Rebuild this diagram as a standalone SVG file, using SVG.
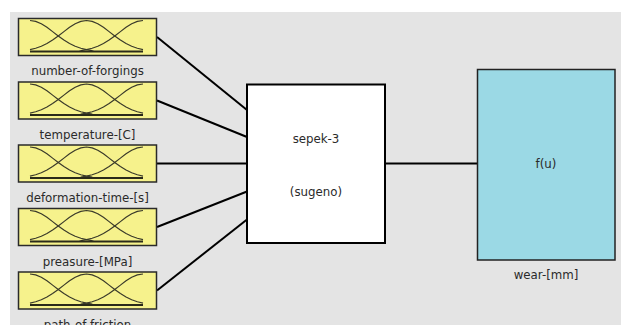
<svg xmlns="http://www.w3.org/2000/svg" xmlns:xlink="http://www.w3.org/1999/xlink" width="621" height="325" viewBox="0 0 621 325">
<style>
.bg{fill:#e4e4e4}
.inbox{fill:#f6f28c;stroke:#2a2a2a;stroke-width:1.5}
.mf{fill:none;stroke:#3a3a2a;stroke-width:1.2;stroke-linejoin:round}
.base{stroke:#2a2a1a;stroke-width:2}
.lbl{font-family:"DejaVu Sans",sans-serif;font-size:11.8px;fill:#2a2a2a;text-anchor:middle}
.conn{stroke:#000;stroke-width:2;fill:none}
.sys{fill:#fff;stroke:#000;stroke-width:2}
.out{fill:#9bd9e5;stroke:#222;stroke-width:1.5}
</style>
<defs>
<g id="mfs">
<path class="mf" d="M0,0 L5.65,0.85 L11.3,3.26 L16.95,6.85 L22.6,11.11 L28.25,15.5 L33.9,19.58 L39.55,23.04 L45.2,25.75 L50.85,27.72 L56.5,29.06 L62,30.2 L64,31"/>
<path class="mf" d="M0,29.06 L5.65,27.72 L11.3,25.75 L16.95,23.04 L22.6,19.58 L28.25,15.5 L33.9,11.11 L39.55,6.85 L45.2,3.26 L50.85,0.85 L56.5,0 L62.15,0.85 L67.8,3.26 L73.45,6.85 L79.1,11.11 L84.75,15.5 L90.4,19.58 L96.05,23.04 L101.7,25.75 L107.35,27.72 L113,29.06"/>
<path class="mf" d="M113,0 L107.35,0.85 L101.7,3.26 L96.05,6.85 L90.4,11.11 L84.75,15.5 L79.1,19.58 L73.45,23.04 L67.8,25.75 L62.15,27.72 L56.5,29.06 L51,30.2 L49,31"/>
<line class="base" x1="0" y1="31" x2="113" y2="31"/>
</g>
</defs>
<rect x="0" y="0" width="621" height="325" fill="#fff"/>
<rect class="bg" x="10" y="12" width="611" height="313"/>
<g id="connectors">
<line class="conn" x1="157" y1="37" x2="247" y2="110"/>
<line class="conn" x1="157" y1="100.5" x2="247" y2="137"/>
<line class="conn" x1="157" y1="163.5" x2="247" y2="163.5"/>
<line class="conn" x1="157" y1="227" x2="247" y2="191.5"/>
<line class="conn" x1="157" y1="290.5" x2="247" y2="219.5"/>
<line class="conn" x1="385" y1="163.5" x2="477" y2="163.5"/>
</g>
<g id="in1">
<rect class="inbox" x="18.5" y="18.5" width="138" height="37"/>
<use xlink:href="#mfs" x="30" y="20.5"/>
<text class="lbl" x="87.5" y="75">number-of-forgings</text>
</g>
<g id="in2">
<rect class="inbox" x="18.5" y="82" width="138" height="37"/>
<use xlink:href="#mfs" x="30" y="84"/>
<text class="lbl" x="87.5" y="138.5">temperature-[C]</text>
</g>
<g id="in3">
<rect class="inbox" x="18.5" y="145" width="138" height="37"/>
<use xlink:href="#mfs" x="30" y="147"/>
<text class="lbl" x="87.5" y="202">deformation-time-[s]</text>
</g>
<g id="in4">
<rect class="inbox" x="18.5" y="208.5" width="138" height="37"/>
<use xlink:href="#mfs" x="30" y="210.5"/>
<text class="lbl" x="87.5" y="265.5">preasure-[MPa]</text>
</g>
<g id="in5">
<rect class="inbox" x="18.5" y="272" width="138" height="37"/>
<use xlink:href="#mfs" x="30" y="274"/>
<text class="lbl" x="87.5" y="328.5">path-of-friction</text>
</g>
<g id="system">
<rect class="sys" x="247" y="84.5" width="138" height="158.5"/>
<text class="lbl" x="316" y="142.5">sepek-3</text>
<text class="lbl" x="316" y="195.5">(sugeno)</text>
</g>
<g id="output">
<rect class="out" x="477.5" y="69.5" width="137.5" height="190.5"/>
<text class="lbl" x="546" y="168">f(u)</text>
<text class="lbl" x="546" y="279">wear-[mm]</text>
</g>
</svg>
